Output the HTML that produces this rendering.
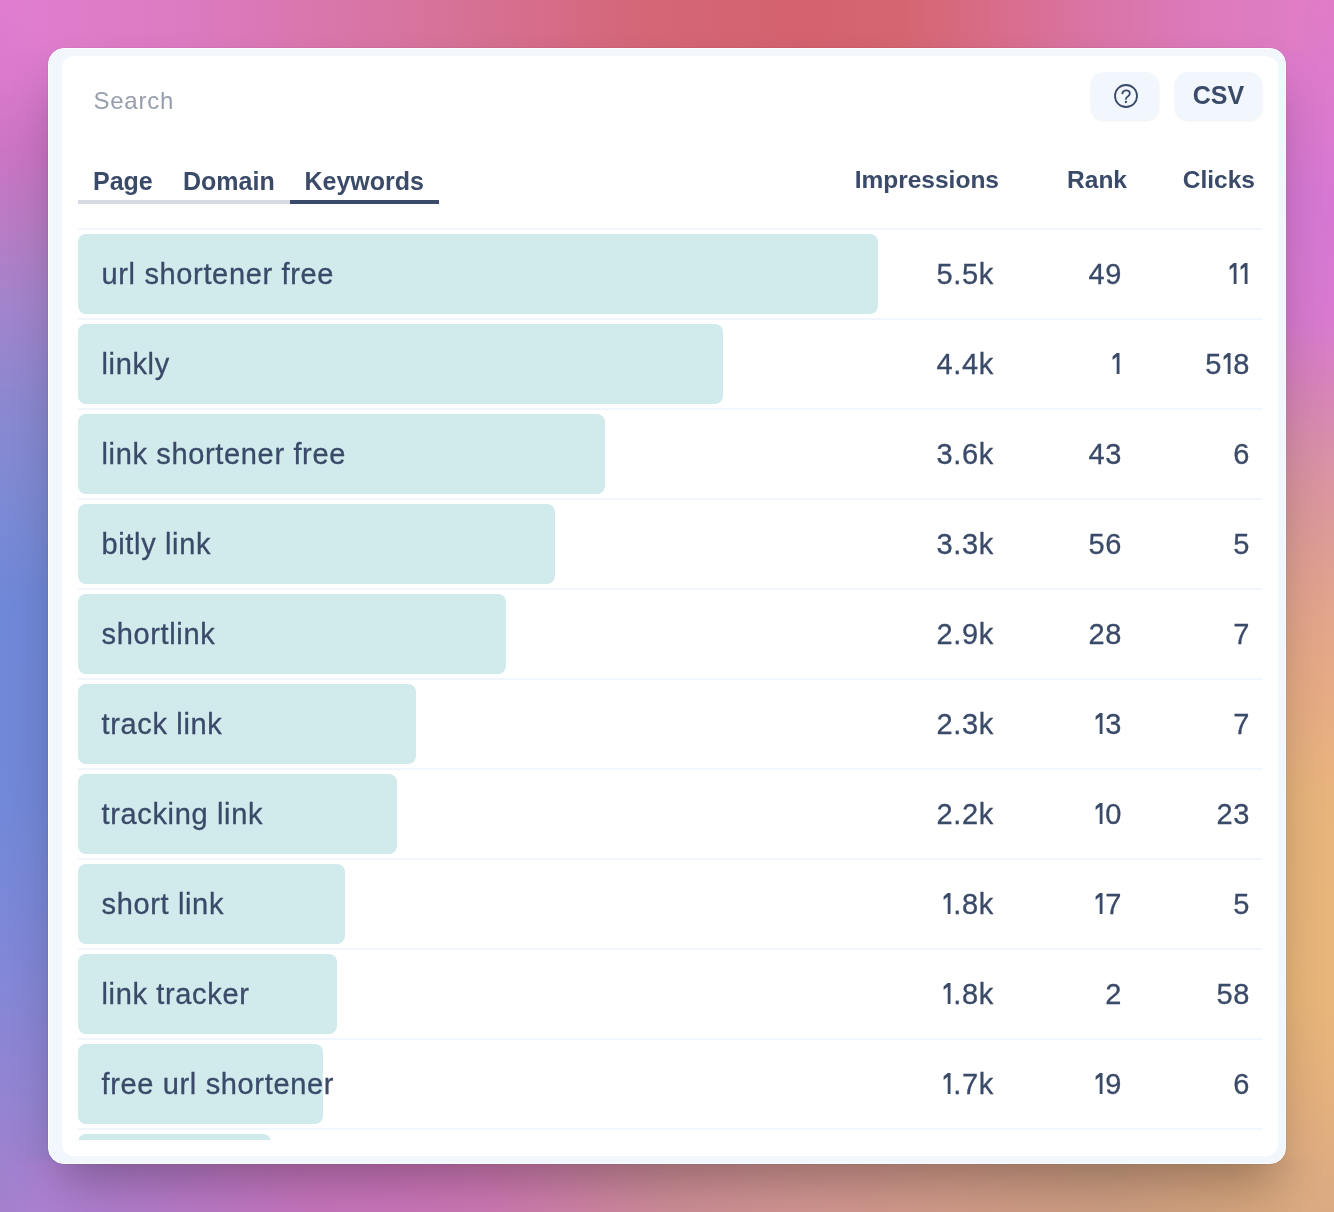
<!DOCTYPE html>
<html><head><meta charset="utf-8">
<style>
*{box-sizing:border-box;margin:0;padding:0}
html,body{width:1334px;height:1212px;overflow:hidden}
.txt{will-change:transform}
body{position:relative;font-family:"Liberation Sans",sans-serif;color:#3a4a69;
background:#d0a0c0;}
.bg{position:absolute}
.bgL{left:0;top:0;width:60px;height:1212px;background:linear-gradient(180deg,#e07ed0 0px,#da7acc 80px,#cc74c4 150px,#b87cc4 225px,#a484cc 300px,#8c88d0 400px,#7c8ad4 500px,#7088d8 600px,#7288d8 800px,#7a88d8 900px,#8686d6 1000px,#9484d2 1100px,#a680cc 1212px)}
.bgR{left:1274px;top:0;width:60px;height:1212px;background:linear-gradient(180deg,#e07cc8 0px,#dc7acc 100px,#d678d4 200px,#d87ad0 320px,#d882bc 380px,#d890a8 450px,#dc9a98 525px,#e2a48c 606px,#e6ac84 700px,#e8b47c 800px,#e8b67a 1000px,#e4b07e 1100px,#dcaa82 1212px)}
.bgT{left:0;top:0;width:1334px;height:56px;-webkit-mask-image:linear-gradient(90deg,transparent 0,#000 48px,#000 1286px,transparent 1334px),linear-gradient(180deg,#000 48px,transparent 56px);-webkit-mask-composite:source-in;mask-composite:intersect;background:linear-gradient(90deg,#e07ed0 0px,#dc7ac0 200px,#d976aa 335px,#d77298 450px,#d56b86 560px,#d46676 650px,#d4626e 800px,#d56670 900px,#d76a80 960px,#d96f94 1030px,#da74a6 1095px,#dc7abb 1200px,#e07ec8 1334px)}
.bgB{left:0;top:1156px;width:1334px;height:56px;-webkit-mask-image:linear-gradient(90deg,transparent 0,#000 48px,#000 1286px,transparent 1334px),linear-gradient(0deg,#000 48px,transparent 56px);-webkit-mask-composite:source-in;mask-composite:intersect;background:linear-gradient(90deg,#a884d4 0px,#ae7ccc 100px,#b878c4 200px,#c474bc 300px,#c874b8 400px,#cc78b0 500px,#cc84a0 600px,#cc8c96 670px,#d09490 800px,#d09a88 950px,#cc9c80 1100px,#d4a47c 1250px,#dcac84 1334px)}
.card{position:absolute;left:48px;top:48px;width:1238px;height:1116px;border-radius:16px;background:#f2f7fe;border:1px solid #fbfdff;
 box-shadow:0 25px 50px -12px rgba(0,0,0,.3),0 0 0 1px rgba(0,0,0,.03)}
.inner{position:absolute;left:62px;top:56px;width:1216px;height:1100px;border-radius:12px;background:#fff}
.abs{position:absolute;white-space:nowrap}
.tab,.th,.kw,.v,.csvt{white-space:nowrap}
.search{left:93.4px;top:88.7px;font-size:24px;line-height:24px;color:#979eac;letter-spacing:0.8px}
.btn{position:absolute;top:72px;height:48px;border-radius:13px;background:#f2f7fd;box-shadow:0 1px 3px rgba(0,0,0,.06),0 1px 2px rgba(0,0,0,.03)}
.csvt{position:absolute;left:0;right:0;top:11.4px;text-align:center;font-size:25px;line-height:24px;font-weight:700}
.tab{position:absolute;top:169px;font-size:25px;line-height:24px;font-weight:700}
.ul{position:absolute;top:200px;height:4px}
.th{position:absolute;top:167.5px;font-size:24.5px;line-height:24px;font-weight:700;text-align:right}
.sep{position:absolute;left:78px;width:1184px;height:2px;background:#f1f5fd}
.clip{position:absolute;left:62px;top:228px;width:1216px;height:912px;overflow:hidden}
.row{position:absolute;left:0;width:1216px;height:80px}
.bar{position:absolute;left:16px;top:0;height:80px;border-radius:8px;background:#d1eaeb}
.kw{position:absolute;left:39.5px;top:0;font-size:29px;line-height:80px;letter-spacing:0.65px}
.v{position:absolute;top:0;font-size:29px;line-height:80px;text-align:right;letter-spacing:0.65px}
.one{display:inline-block;vertical-align:baseline;fill:currentColor}
.kw,.v{-webkit-text-stroke:0.3px currentColor}
.v1{right:284px}.v2{right:156px}.v3{right:28px}
</style></head><body>
<div class="bg bgL"></div><div class="bg bgR"></div><div class="bg bgT"></div><div class="bg bgB"></div>
<div class="card"></div>
<div class="inner"></div>
<div class="txt" style="position:absolute;left:0;top:0;width:1334px;height:1212px">
<div class="abs search">Search</div>
<div class="btn" style="left:1091px;width:68px">
<svg width="68" height="48" viewBox="0 0 68 48" style="position:absolute;left:0;top:0">
<circle cx="35" cy="24" r="11" fill="none" stroke="#3a4a69" stroke-width="1.8"/>
<path d="M31.3 21.4C31.8 19.6 33.3 18.4 35.1 18.4C37.2 18.4 38.8 19.8 38.8 21.6C38.8 23 37.9 23.8 36.8 24.5C35.8 25.1 35 25.7 35 26.6V26.9" fill="none" stroke="#3a4a69" stroke-width="1.8" stroke-linecap="round" stroke-linejoin="round"/>
<circle cx="34.9" cy="30" r="1.15" fill="#3a4a69"/>
</svg>
</div>
<div class="btn" style="left:1175px;width:87px"><div class="csvt">CSV</div></div>

<div class="tab" style="left:93px">Page</div>
<div class="tab" style="left:183px">Domain</div>
<div class="tab" style="left:304.5px">Keywords</div>
<div class="ul" style="left:78px;width:212px;background:#d7dae2"></div>
<div class="ul" style="left:290px;width:149px;background:#3a4a69"></div>

<div class="th" style="right:335px">Impressions</div>
<div class="th" style="right:207px">Rank</div>
<div class="th" style="right:79px">Clicks</div>

<div class="clip" id="clip">
<div class="sep" style="left:16px;top:0px"></div>
<div class="row" style="top:6px"><div class="bar" style="width:800px"></div><div class="kw">url shortener free</div><div class="v v1">5.5k</div><div class="v v2">49</div><div class="v v3"><svg class="one" width="11.1" height="21" viewBox="0 0 11.1 21"><path d="M5.7 0.1H8.5V21H5.7V3.7L1.6 6.9V3.5Z"/></svg><svg class="one" width="11.1" height="21" viewBox="0 0 11.1 21"><path d="M5.7 0.1H8.5V21H5.7V3.7L1.6 6.9V3.5Z"/></svg></div></div>
<div class="sep" style="left:16px;top:90px"></div>
<div class="row" style="top:96px"><div class="bar" style="width:645px"></div><div class="kw">linkly</div><div class="v v1">4.4k</div><div class="v v2"><svg class="one" width="11.1" height="21" viewBox="0 0 11.1 21"><path d="M5.7 0.1H8.5V21H5.7V3.7L1.6 6.9V3.5Z"/></svg></div><div class="v v3">5<svg class="one" width="11.1" height="21" viewBox="0 0 11.1 21"><path d="M5.7 0.1H8.5V21H5.7V3.7L1.6 6.9V3.5Z"/></svg>8</div></div>
<div class="sep" style="left:16px;top:180px"></div>
<div class="row" style="top:186px"><div class="bar" style="width:527px"></div><div class="kw">link shortener free</div><div class="v v1">3.6k</div><div class="v v2">43</div><div class="v v3">6</div></div>
<div class="sep" style="left:16px;top:270px"></div>
<div class="row" style="top:276px"><div class="bar" style="width:477px"></div><div class="kw">bitly link</div><div class="v v1">3.3k</div><div class="v v2">56</div><div class="v v3">5</div></div>
<div class="sep" style="left:16px;top:360px"></div>
<div class="row" style="top:366px"><div class="bar" style="width:428px"></div><div class="kw">shortlink</div><div class="v v1">2.9k</div><div class="v v2">28</div><div class="v v3">7</div></div>
<div class="sep" style="left:16px;top:450px"></div>
<div class="row" style="top:456px"><div class="bar" style="width:338px"></div><div class="kw">track link</div><div class="v v1">2.3k</div><div class="v v2"><svg class="one" width="11.1" height="21" viewBox="0 0 11.1 21"><path d="M5.7 0.1H8.5V21H5.7V3.7L1.6 6.9V3.5Z"/></svg>3</div><div class="v v3">7</div></div>
<div class="sep" style="left:16px;top:540px"></div>
<div class="row" style="top:546px"><div class="bar" style="width:319px"></div><div class="kw">tracking link</div><div class="v v1">2.2k</div><div class="v v2"><svg class="one" width="11.1" height="21" viewBox="0 0 11.1 21"><path d="M5.7 0.1H8.5V21H5.7V3.7L1.6 6.9V3.5Z"/></svg>0</div><div class="v v3">23</div></div>
<div class="sep" style="left:16px;top:630px"></div>
<div class="row" style="top:636px"><div class="bar" style="width:267px"></div><div class="kw">short link</div><div class="v v1"><svg class="one" width="11.1" height="21" viewBox="0 0 11.1 21"><path d="M5.7 0.1H8.5V21H5.7V3.7L1.6 6.9V3.5Z"/></svg>.8k</div><div class="v v2"><svg class="one" width="11.1" height="21" viewBox="0 0 11.1 21"><path d="M5.7 0.1H8.5V21H5.7V3.7L1.6 6.9V3.5Z"/></svg>7</div><div class="v v3">5</div></div>
<div class="sep" style="left:16px;top:720px"></div>
<div class="row" style="top:726px"><div class="bar" style="width:259px"></div><div class="kw">link tracker</div><div class="v v1"><svg class="one" width="11.1" height="21" viewBox="0 0 11.1 21"><path d="M5.7 0.1H8.5V21H5.7V3.7L1.6 6.9V3.5Z"/></svg>.8k</div><div class="v v2">2</div><div class="v v3">58</div></div>
<div class="sep" style="left:16px;top:810px"></div>
<div class="row" style="top:816px"><div class="bar" style="width:245px"></div><div class="kw">free url shortener</div><div class="v v1"><svg class="one" width="11.1" height="21" viewBox="0 0 11.1 21"><path d="M5.7 0.1H8.5V21H5.7V3.7L1.6 6.9V3.5Z"/></svg>.7k</div><div class="v v2"><svg class="one" width="11.1" height="21" viewBox="0 0 11.1 21"><path d="M5.7 0.1H8.5V21H5.7V3.7L1.6 6.9V3.5Z"/></svg>9</div><div class="v v3">6</div></div>
<div class="sep" style="left:16px;top:900px"></div>
<div class="row" style="top:906px"><div class="bar" style="width:193px"></div><div class="kw"></div><div class="v v1"></div><div class="v v2"></div><div class="v v3"></div></div>
</div>
</div>
</body></html>
